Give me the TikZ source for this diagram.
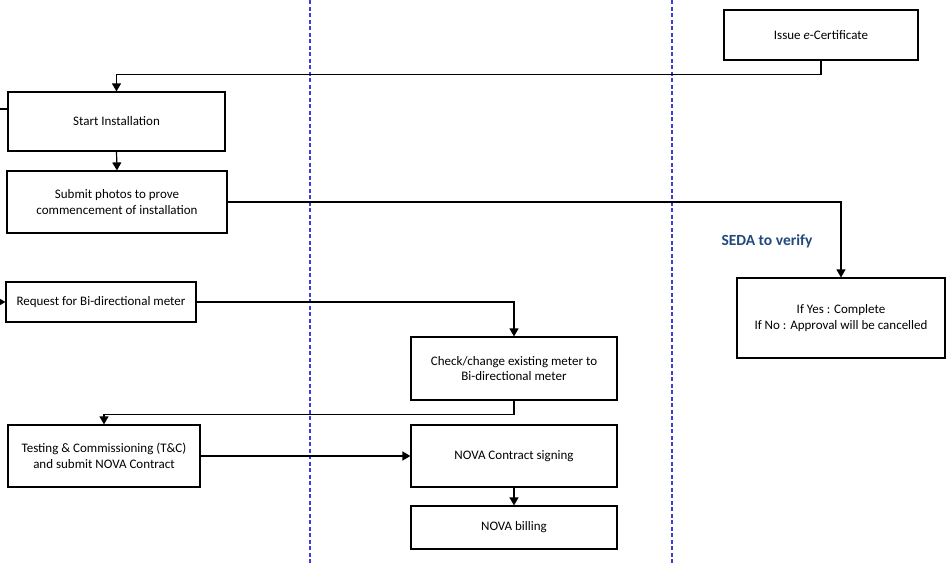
\documentclass[tikz,border=0pt]{standalone}
\usepackage{fontspec}
\setmainfont{Carlito}
\usetikzlibrary{arrows.meta}

\definecolor{laneblue}{RGB}{60,60,225}
\definecolor{sedablue}{RGB}{31,73,125}

\tikzset{
    stepbox/.style={draw, line width=1.2pt, align=center, inner sep=2pt},
    flow/.style={line width=1.2pt, -{Triangle[length=8pt,width=9pt]}},
    lane/.style={laneblue, line width=1.8pt, dash pattern=on 4pt off 2.5pt}
}

\begin{document}
\begin{tikzpicture}[x=1pt, y=-1pt, font=\fontsize{13}{15.5}\selectfont]
    % Canvas
    \useasboundingbox (0,0) rectangle (946,563);

    % Lane separators
    \draw[lane] (310,0) -- (310,563);
    \draw[lane] (672,0) -- (672,563);

    % Boxes
    \node[stepbox, minimum width=194pt, minimum height=50pt] (cert) at (821,35) {Issue \textit{e}-Certificate};
    \node[stepbox, minimum width=217pt, minimum height=59pt] (start) at (116.5,121.5) {Start Installation};
    \node[stepbox, minimum width=220pt, minimum height=62pt] (photos) at (117,202) {Submit photos to prove\\commencement of installation};
    \node[stepbox, minimum width=208pt, minimum height=80pt] (verify) at (841,318) {If Yes : Complete\\If No : Approval will be cancelled};
    \node[stepbox, minimum width=190pt, minimum height=40pt] (request) at (101,302) {Request for Bi-directional meter};
    \node[stepbox, minimum width=206pt, minimum height=63pt] (check) at (514,368.5) {Check/change existing meter to\\Bi-directional meter};
    \node[stepbox, minimum width=192pt, minimum height=62pt] (testing) at (104,456) {Testing \& Commissioning (T\&C)\\and submit NOVA Contract};
    \node[stepbox, minimum width=206pt, minimum height=62pt] (signing) at (514,456) {NOVA Contract signing};
    \node[stepbox, minimum width=206pt, minimum height=43pt] (billing) at (514,527.5) {NOVA billing};

    % Label
    \node[sedablue, font=\fontsize{15.5}{18}\selectfont\bfseries] (seda) at (767,241) {SEDA to verify};

    % Loose ends at the left edge
    \coordinate (inStart) at (0,109);
    \coordinate (inRequest) at (0,302);

    % Connectors
    \draw[flow] (cert.south) -- ++(0,14) -| (start.north);
    \draw[flow] (start.south) -- (photos.north);
    \draw[flow] (photos.east) -| (verify.north);
    \draw[line width=1.2pt] (inStart) -- (inStart -| start.west);
    \draw[flow] (inRequest) -- (request.west);
    \draw[flow] (request.east) -| (check.north);
    \draw[flow] (check.south) -- ++(0,14) -| (testing.north);
    \draw[flow] (testing.east) -- (signing.west);
    \draw[flow] (signing.south) -- (billing.north);
\end{tikzpicture}
\end{document}
